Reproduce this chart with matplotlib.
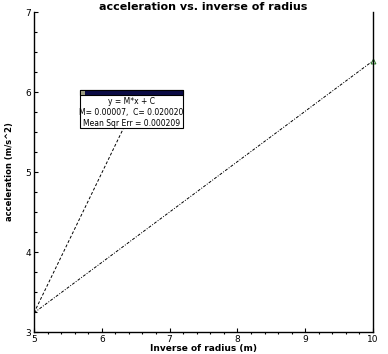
import matplotlib
matplotlib.use("Agg")
import matplotlib.pyplot as plt
from matplotlib.ticker import MultipleLocator

# data
line_a_x = [5.0, 10.0]
line_a_y = [3.24, 6.39]
line_b_x = [5.0, 6.55]
line_b_y = [3.24, 5.95]
end_x = [10.0]
end_y = [6.39]

x_ticks = [5, 6, 7, 8, 9, 10]
y_ticks = [3, 4, 5, 6, 7]

fit_lines = ["y = M*x + C", "M= 0.00007,  C= 0.020020", "Mean Sqr Err = 0.000209"]

fig = plt.figure(figsize=(3.88, 3.54), dpi=100)
ax = fig.add_axes([0.0876, 0.062, 0.8737, 0.904])

ax.plot(line_a_x, line_a_y, color="black", lw=0.7, ls=(0, (3, 1.5, 1, 1.5)))
ax.plot(line_b_x, line_b_y, color="black", lw=0.7, ls=(0, (3, 2)))
ax.plot(end_x, end_y, marker="^", ms=3.5, mfc="none", mec="#2a7a2a", mew=0.7, ls="none", clip_on=False)

ax.set_xlim(5, 10)
ax.set_ylim(3, 7)
ax.set_xticks(x_ticks)
ax.set_yticks(y_ticks)
ax.xaxis.set_minor_locator(MultipleLocator(0.2))
ax.yaxis.set_minor_locator(MultipleLocator(0.25))
ax.tick_params(axis="both", which="major", direction="in", length=3, width=0.8, labelsize=6.5, pad=2)
ax.tick_params(axis="x", which="minor", direction="out", length=1.5, width=0.8)
ax.tick_params(axis="y", which="minor", direction="in", length=2, width=0.8)
ax.spines["top"].set_visible(False)
ax.spines["left"].set_linewidth(1.0)
ax.spines["right"].set_linewidth(1.0)
ax.spines["bottom"].set_linewidth(1.0)

ax.set_title("acceleration vs. inverse of radius", fontsize=8, fontweight="bold", pad=1)
ax.set_xlabel("Inverse of radius (m)", fontsize=6.5, fontweight="bold", labelpad=0)
ax.set_ylabel("acceleration (m/s^2)", fontsize=6, fontweight="bold", labelpad=8)

# fit info box
bx0, by0, bw, bh = 80, 226, 103, 38  # pixels from bottom-left of figure
box = plt.Rectangle((bx0 / 388, by0 / 354), bw / 388, bh / 354, transform=fig.transFigure,
                    facecolor="white", edgecolor="black", lw=0.8, zorder=5)
fig.add_artist(box)
bar = plt.Rectangle((bx0 / 388, (by0 + bh - 5) / 354), bw / 388, 5 / 354, transform=fig.transFigure,
                    facecolor="#0b0b45", edgecolor="black", lw=0.8, zorder=6)
fig.add_artist(bar)
sq = plt.Rectangle(((bx0 + 1) / 388, (by0 + bh - 4.5) / 354), 3.5 / 388, 3.5 / 354, transform=fig.transFigure,
                   facecolor="#9a9a80", edgecolor="none", zorder=7)
fig.add_artist(sq)
for i, t in enumerate(fit_lines):
    fig.text((bx0 + bw / 2) / 388, (by0 + bh - 11 - i * 11) / 354, t, ha="center", va="center",
             fontsize=5.5, zorder=8)

fig.savefig("out.png", dpi=100)
